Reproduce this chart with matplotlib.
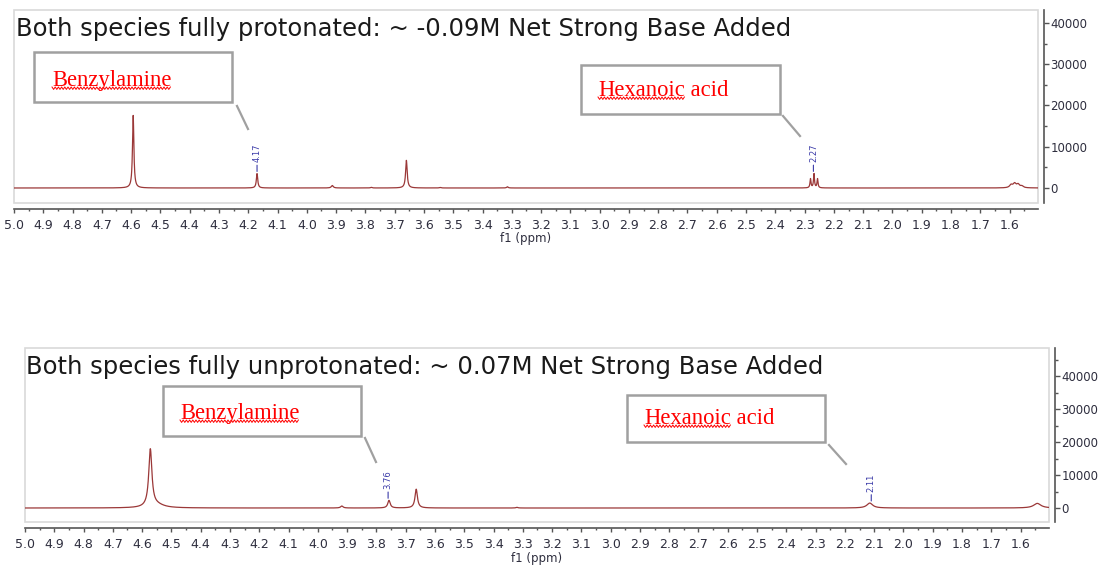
import numpy as np
import matplotlib
matplotlib.use('Agg')
import matplotlib.pyplot as plt
from matplotlib.patches import Rectangle
from matplotlib.lines import Line2D
from matplotlib.ticker import MultipleLocator, FormatStrFormatter

W, H = 1099, 567

# peaks: shift (ppm), height, half width (ppm)
top_shift = [4.593, 4.170, 3.913, 3.780, 3.660, 3.545, 3.315, 2.280, 2.268, 2.256, 1.595, 1.583, 1.571, 1.558]
top_height = [17600, 3500, 600, 150, 6700, 120, 300, 2200, 3400, 2200, 700, 1000, 800, 400]
top_hw = [0.0028, 0.0028, 0.004, 0.003, 0.0032, 0.003, 0.003, 0.002, 0.002, 0.002, 0.006, 0.006, 0.006, 0.006]
top_marks = [4.17, 2.27]
top_title = 'Both species fully protonated: ~ -0.09M Net Strong Base Added'

bot_shift = [4.572, 4.550, 3.918, 3.757, 3.664, 3.320, 2.115, 1.543]
bot_height = [17400, 900, 600, 2300, 5700, 200, 1500, 1400]
bot_hw = [0.0065, 0.03, 0.005, 0.005, 0.005, 0.004, 0.012, 0.015]
bot_marks = [3.76, 2.11]
bot_title = 'Both species fully unprotonated: ~ 0.07M Net Strong Base Added'

ppm = np.linspace(5.0, 1.5, 20000)


def spectrum(shifts, heights, widths):
    y = np.zeros_like(ppm)
    for s, h, w in zip(shifts, heights, widths):
        y += h / (1 + ((ppm - s) / w) ** 2)
    return y


def fx(x):
    return x / W


def fy(y):
    return 1 - y / H


fig = plt.figure(figsize=(W / 100, H / 100), dpi=100)
fig.patch.set_facecolor('white')


def panel(rect, shifts, heights, widths, marks, ylim):
    ax = fig.add_axes(rect)
    y = spectrum(shifts, heights, widths)
    ax.plot(ppm, y, color='#9b3838', lw=0.9)
    ax.set_xlim(5.0, 1.503)
    ax.set_ylim(*ylim)
    for s in ['top', 'left']:
        ax.spines[s].set_visible(False)
    for s in ['right', 'bottom']:
        ax.spines[s].set_position(('outward', 4.3))
        ax.spines[s].set_color('#555555')
        ax.spines[s].set_linewidth(1.2)
    ax.add_patch(Rectangle((0, 0), 1, 1, transform=ax.transAxes, fill=False,
                           ec='#d9d9d9', lw=1.2, clip_on=False))
    ax.xaxis.set_major_locator(MultipleLocator(0.1))
    ax.xaxis.set_minor_locator(MultipleLocator(0.05))
    ax.xaxis.set_major_formatter(FormatStrFormatter('%.1f'))
    ax.yaxis.set_major_locator(MultipleLocator(10000))
    ax.yaxis.set_minor_locator(MultipleLocator(5000))
    ax.yaxis.set_major_formatter(FormatStrFormatter('%d'))
    ax.yaxis.tick_right()
    ax.tick_params(axis='x', which='major', length=3, width=1, color='#555555',
                   pad=4, labelsize=9, labelcolor='#2e2e3e')
    ax.tick_params(axis='x', which='minor', length=1.5, width=1, color='#555555')
    ax.tick_params(axis='y', which='major', length=3.5, width=1, color='#555555',
                   pad=1, labelsize=8.5, labelcolor='#2e2e3e')
    ax.tick_params(axis='y', which='minor', length=2, width=1, color='#555555')
    ax.set_xlabel('f1 (ppm)', fontsize=8.5, color='#2e2e3e')
    for m in marks:
        i = np.argmin(np.abs(ppm - m))
        top = y[max(i - 40, 0):i + 40].max()
        ax.annotate(f'{m:.2f}', xy=(m, top), xytext=(0, 8), textcoords='offset points',
                    rotation=90, ha='center', va='bottom', fontsize=6, color='#3a3aa8',
                    arrowprops=dict(arrowstyle='-', color='#3a3aa8', lw=0.8,
                                    shrinkA=0, shrinkB=1.5))
    return ax


ax1 = panel([fx(14), fy(203), 1024 / W, 193 / H], top_shift, top_height, top_hw,
            top_marks, (-3640, 43150))
ax1.xaxis.set_label_coords(0.5, -0.15)
ax2 = panel([fx(25), fy(522), 1024 / W, 174 / H], bot_shift, bot_height, bot_hw,
            bot_marks, (-4240, 48500))
ax2.xaxis.set_label_coords(0.5, -0.17)

fig.text(fx(16), fy(36), top_title, fontsize=17.5, color='#1a1a1a', va='baseline')
fig.text(fx(26), fy(374), bot_title, fontsize=17.5, color='#1a1a1a', va='baseline')

renderer = fig.canvas.get_renderer()


def callout(box, word, rest, tx, ty, leader):
    x0, y0, x1, y1 = box
    fig.add_artist(Rectangle((fx(x0), fy(y1)), (x1 - x0) / W, (y1 - y0) / H,
                             transform=fig.transFigure, fill=False, ec='#a0a0a0', lw=1.8))
    fig.add_artist(Line2D([fx(leader[0]), fx(leader[2])], [fy(leader[1]), fy(leader[3])],
                          transform=fig.transFigure, color='#a0a0a0', lw=1.6))
    props = dict(fontsize=16.3, color='#ff0000', family='Liberation Serif', va='baseline')
    t = fig.text(fx(tx), fy(ty), word, **props)
    bb = t.get_window_extent(renderer)
    if rest:
        fig.text((bb.x1) / W, fy(ty), rest, **props)
    xs = np.arange(bb.x0, bb.x1, 1.6)
    ys = (H - ty) - 2.2 + 1.2 * (-1) ** np.arange(len(xs))
    fig.add_artist(Line2D(xs / W, ys / H, transform=fig.transFigure, color='#ff0000', lw=0.7))


callout((34, 52, 232, 102), 'Benzylamine', '', 52, 86, (237, 106, 248, 129))
callout((581, 65, 780, 114), 'Hexanoic', ' acid', 598, 96, (783, 116, 800, 136))
callout((163, 386, 361, 436), 'Benzylamine', '', 180, 419, (365, 438, 376, 462))
callout((627, 395, 825, 442), 'Hexanoic', ' acid', 644, 424, (829, 445, 846, 464))

fig.savefig('out.png', dpi=100)
